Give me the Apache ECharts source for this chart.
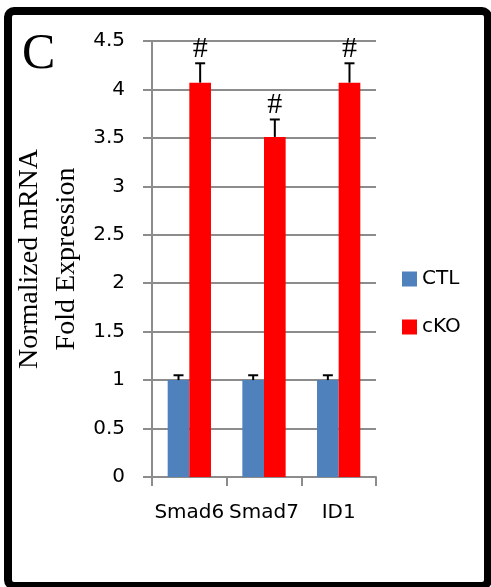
<!DOCTYPE html>
<html>
<head>
<meta charset="utf-8">
<script src="https://cdn.jsdelivr.net/npm/echarts@6/dist/echarts.min.js"></script>
<style>
  html, body { margin: 0; padding: 0; background: #fff; }
  #chart { width: 491px; height: 587px; }
</style>
</head>
<body>
<div id="chart"></div>
<script>
// 数据
const categories = ["Smad6", "Smad7", "ID1"];
const ctlValues = [1, 1, 1];
const ckoValues = [4.07, 3.51, 4.07];
const ctlErrors = [0.05, 0.05, 0.05];
const ckoErrors = [0.2, 0.18, 0.2];
const ctlMarks = ["", "", ""];
const ckoMarks = ["#", "#", "#"];
const yMin = 0;
const yMax = 4.5;
const yStep = 0.5;

const catGap = 0.42; // barCategoryGap
const gridColor = "#8c8c8c";

// 误差线 + 显著性标记
function errorSeries(values, errors, marks, side) {
  return {
    type: "custom",
    z: 5,
    data: values.map((v, i) => [i, v, errors[i]]),
    renderItem(params, api) {
      const x = api.value(0), v = api.value(1), e = api.value(2);
      const base = api.coord([x, v]);
      const top = api.coord([x, v + e]);
      const catW = api.size([1, 0])[0];
      const barW = catW * (1 - catGap) / 2;
      const cx = base[0] + side * barW / 2;
      const children = [
        { type: "line", shape: { x1: cx, y1: base[1], x2: cx, y2: top[1] },
          style: { stroke: "#000", lineWidth: 2 } },
        { type: "line", shape: { x1: cx - 5, y1: top[1], x2: cx + 5, y2: top[1] },
          style: { stroke: "#000", lineWidth: 2 } }
      ];
      const m = marks[params.dataIndex];
      if (m) {
        children.push({
          type: "text",
          style: { text: m, x: cx, y: top[1] - 14, textAlign: "center", textVerticalAlign: "middle",
                   font: "30px 'Liberation Serif'", fill: "#000" }
        });
      }
      return { type: "group", children };
    }
  };
}

const chart = echarts.init(document.getElementById("chart"));
chart.setOption({
  animation: false,
  backgroundColor: "#fff",
  grid: { left: 152, top: 41, width: 224, height: 436 },
  legend: {
    orient: "vertical",
    left: 397,
    top: 264,
    itemWidth: 15,
    itemHeight: 15,
    itemGap: 28,
    icon: "rect",
    textStyle: { fontFamily: "DejaVu Sans", fontSize: 20, color: "#000", lineHeight: 20 },
    data: ["CTL", "cKO"]
  },
  xAxis: {
    type: "category",
    data: categories,
    axisLine: { lineStyle: { color: gridColor, width: 2 } },
    axisTick: { show: true, length: 9, lineStyle: { color: gridColor, width: 2 } },
    axisLabel: { interval: 0, hideOverlap: false, margin: 26, fontFamily: "DejaVu Sans", fontSize: 20, color: "#000" }
  },
  yAxis: {
    type: "value",
    min: yMin,
    max: yMax,
    interval: yStep,
    axisLine: { show: true, lineStyle: { color: gridColor, width: 2 } },
    axisTick: { show: true, length: 9, lineStyle: { color: gridColor, width: 2 } },
    splitLine: { show: true, lineStyle: { color: gridColor, width: 2 } },
    axisLabel: { margin: 27, fontFamily: "DejaVu Sans", fontSize: 20, color: "#000" }
  },
  series: [
    { name: "CTL", type: "bar", data: ctlValues, barGap: "0%", barCategoryGap: catGap * 100 + "%",
      itemStyle: { color: "#4f81bd" } },
    { name: "cKO", type: "bar", data: ckoValues, barGap: "0%", barCategoryGap: catGap * 100 + "%",
      itemStyle: { color: "#ff0000" } },
    errorSeries(ctlValues, ctlErrors, ctlMarks, -1),
    errorSeries(ckoValues, ckoErrors, ckoMarks, 1)
  ],
  graphic: [
    { type: "rect", shape: { x: 8, y: 11, width: 480, height: 575, r: 6 },
      style: { fill: "none", stroke: "#000", lineWidth: 8 }, z: 10 },
    { type: "text", x: 22, y: 55,
      style: { text: "C", font: "50px 'Liberation Serif'", fill: "#000", textVerticalAlign: "middle" } },
    { type: "text", x: 48, y: 259, rotation: Math.PI / 2,
      style: { text: "Normalized mRNA\nFold Expression", font: "28px 'Liberation Serif'", fill: "#000",
               textAlign: "center", textVerticalAlign: "middle", lineHeight: 37 } }
  ]
});
</script>
</body>
</html>
